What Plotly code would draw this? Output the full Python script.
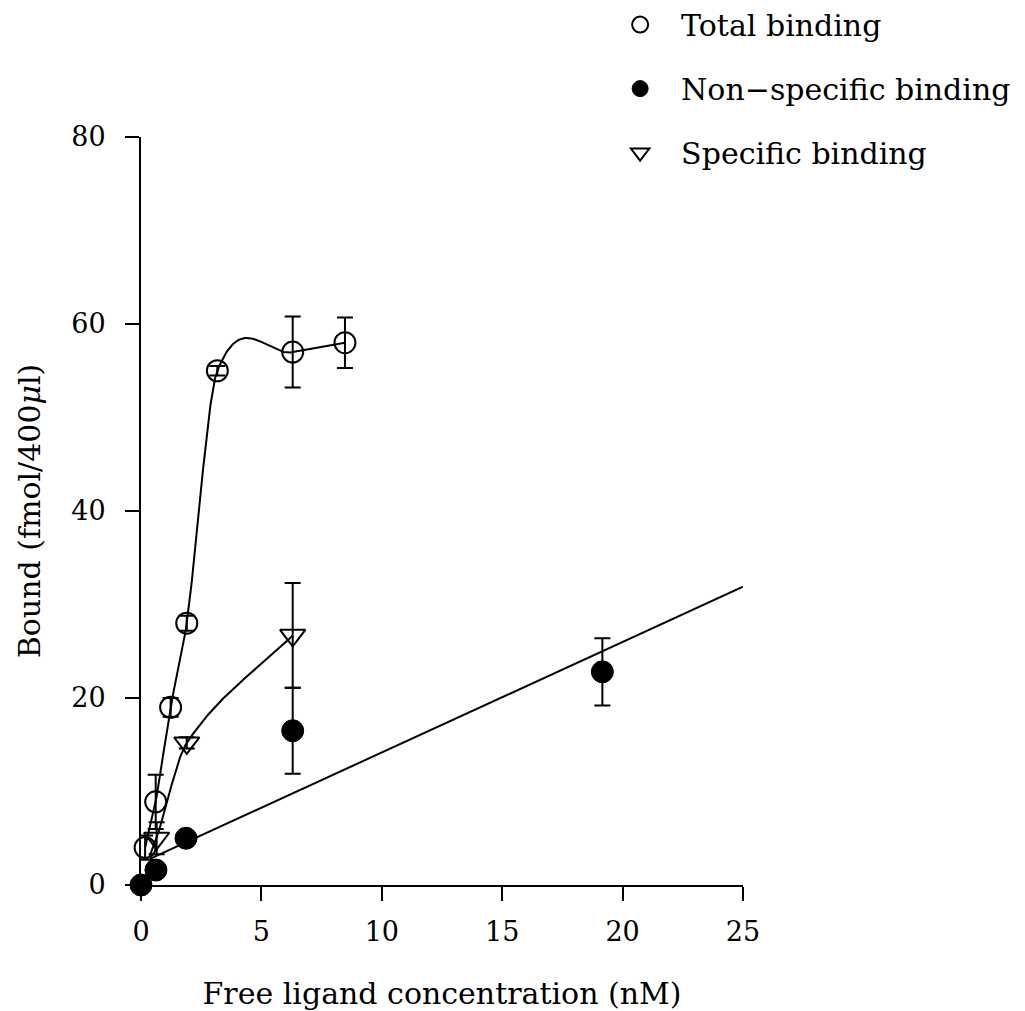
import numpy as np
import plotly.graph_objects as go

# Measured binding data (free ligand in nM, bound in fmol/400 µl)
total_x = [0.17, 0.61, 1.23, 1.9, 3.17, 6.3, 8.47]
total_y = [4.0, 8.9, 19.0, 28.0, 55.0, 57.0, 58.0]
total_err = [1.3, 2.9, 1.0, 0.8, 0.5, 3.8, 2.7]

nonspec_x = [0.0, 0.62, 1.87, 6.3, 19.16]
nonspec_y = [0.0, 1.6, 5.0, 16.5, 22.8]
nonspec_err = [0.0, 0.0, 0.0, 4.6, 3.6]

spec_x = [0.65, 1.9, 6.3]
spec_y = [5.0, 15.2, 26.7]
spec_err = [1.7, 0.6, 5.6]

# Curve knots and linear regression for non-specific binding
spec_curve_x = [0.35, 0.65, 1.9, 6.3]
spec_curve_y = [3.0, 5.0, 15.2, 26.7]
nonspec_fit_x = [0.37, 25.0]
nonspec_fit_y = [2.8, 31.9]

x_ticks = [0, 5, 10, 15, 20, 25]
y_ticks = [0, 20, 40, 60, 80]

FONT = "DejaVu Serif"
BLACK = "#000000"


def smooth_curve(xs, ys, per_seg=60):
    """Cubic Hermite curve through the knots with Catmull-Rom tangents."""
    x = np.asarray(xs, float)
    y = np.asarray(ys, float)
    k = len(x)
    m = np.zeros(k)
    m[0] = (y[1] - y[0]) / (x[1] - x[0])
    m[-1] = (y[-1] - y[-2]) / (x[-1] - x[-2])
    for i in range(1, k - 1):
        m[i] = (y[i + 1] - y[i - 1]) / (x[i + 1] - x[i - 1])
    out_x, out_y = [], []
    for i in range(k - 1):
        h = x[i + 1] - x[i]
        s = np.linspace(0, 1, per_seg, endpoint=(i == k - 2))
        h00 = 2 * s**3 - 3 * s**2 + 1
        h10 = s**3 - 2 * s**2 + s
        h01 = -2 * s**3 + 3 * s**2
        h11 = s**3 - s**2
        out_x.append(x[i] + s * h)
        out_y.append(h00 * y[i] + h10 * h * m[i] + h01 * y[i + 1] + h11 * h * m[i + 1])
    return np.concatenate(out_x), np.concatenate(out_y)


tc_x, tc_y = smooth_curve(total_x, total_y)
sc_x, sc_y = smooth_curve(spec_curve_x, spec_curve_y)

fig = go.Figure()

# Fitted curves (no legend entries)
for cx, cy in [(tc_x, tc_y), (sc_x, sc_y), (nonspec_fit_x, nonspec_fit_y)]:
    fig.add_trace(go.Scatter(x=cx, y=cy, mode="lines",
                             line=dict(color=BLACK, width=2),
                             showlegend=False, hoverinfo="skip", cliponaxis=False))

err_style = dict(type="data", visible=True, color=BLACK, thickness=2, width=8)

fig.add_trace(go.Scatter(
    x=total_x, y=total_y, mode="markers", name="Total binding",
    error_y=dict(array=total_err, **err_style),
    marker=dict(symbol="circle-open", size=21, color=BLACK, line=dict(width=2, color=BLACK)),
    legendgroup="a", cliponaxis=False))
fig.add_trace(go.Scatter(
    x=nonspec_x, y=nonspec_y, mode="markers", name="Non\u2212specific binding",
    error_y=dict(array=nonspec_err, **err_style),
    marker=dict(symbol="circle", size=22, color=BLACK, line=dict(width=1, color=BLACK)),
    legendgroup="b", cliponaxis=False))
fig.add_trace(go.Scatter(
    x=spec_x, y=spec_y, mode="markers", name="Specific binding",
    error_y=dict(array=spec_err, **err_style),
    marker=dict(symbol="triangle-down-open", size=22, color=BLACK, line=dict(width=2, color=BLACK)),
    legendgroup="c", cliponaxis=False))

axis_common = dict(
    showline=True, linecolor=BLACK, linewidth=2,
    ticks="outside", ticklen=14, tickwidth=2, tickcolor=BLACK,
    showgrid=False, zeroline=False,
    tickfont=dict(family=FONT, size=27, color=BLACK),
)

fig.update_layout(
    width=1025, height=1011,
    margin=dict(l=141, r=282, t=137, b=126, autoexpand=False),
    paper_bgcolor="white", plot_bgcolor="white",
    font=dict(family=FONT, color=BLACK),
    xaxis=dict(range=[0, 25], tickvals=x_ticks, ticktext=[str(v) for v in x_ticks],
               ticklabelstandoff=8,
               title=dict(text="Free ligand concentration (nM)",
                          font=dict(family=FONT, size=30, color=BLACK), standoff=47),
               **axis_common),
    yaxis=dict(range=[0, 80], tickvals=y_ticks, ticktext=[str(v) for v in y_ticks],
               ticklabelstandoff=14,
               title=dict(text="Bound (fmol/400<i>\u03bc</i>l)",
                          font=dict(family=FONT, size=30, color=BLACK), standoff=22),
               **axis_common),
    legend=dict(x=0.761, y=1.185, xanchor="left", yanchor="top",
                font=dict(family=FONT, size=30, color=BLACK),
                tracegroupgap=22, bgcolor="rgba(0,0,0,0)", itemwidth=72),
    showlegend=True,
)

fig.write_html("out.html")
